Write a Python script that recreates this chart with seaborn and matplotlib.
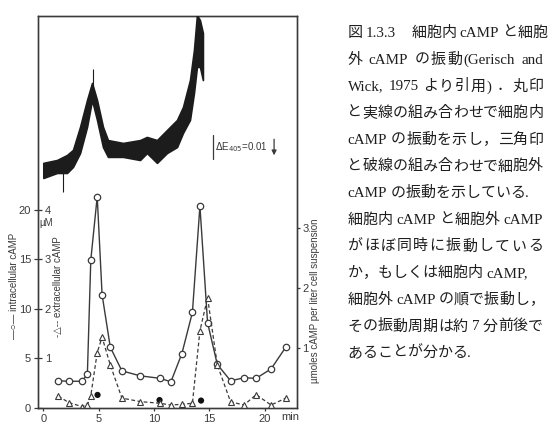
import matplotlib
matplotlib.use("Agg")
import matplotlib.pyplot as plt
import numpy as np
import pandas as pd
import seaborn as sns

# ---------------- data ----------------
time_min = [1.35, 2.3, 3.47, 3.98, 4.29, 4.87, 5.31, 6.05, 7.1, 8.75, 10.52,
            11.53, 12.52, 13.47, 14.15, 14.84, 15.72, 16.92, 18.13, 19.23, 20.58, 21.91]
intracellular = [2.7, 2.65, 2.65, 3.35, 14.9, 21.3, 11.4, 6.1, 3.7, 3.2, 2.95,
                 2.6, 5.45, 9.6, 20.35, 8.56, 4.35, 2.7, 3.0, 2.95, 3.9, 6.1]
extracellular = [0.23, 0.10, 0.02, 0.05, 0.24, 1.11, 1.42, 0.86, 0.19, 0.12, 0.085,
                 0.05, 0.065, 0.085, 1.55, 2.22, 0.86, 0.115, 0.05, 0.26, 0.05, 0.19]
dot_time = [4.9, 10.5, 14.25]
dot_value = [1.27, 0.75, 0.70]

# light-scattering trace envelope (units of 0.001 dE405)
trace_time = [0.0, 1.24, 2.14, 2.68, 3.32, 3.95, 4.40, 4.85, 5.39, 5.84, 7.2, 8.74,
              9.36, 10.27, 11.17, 12.08, 12.62, 13.25, 13.61, 13.88, 14.15, 14.42]
trace_low = [12.5, 14.6, 14.6, 17.1, 22.9, 33.8, 45.0, 36.7, 25.4, 21.3, 21.3, 20.0,
             22.9, 18.8, 22.9, 25.4, 31.3, 36.7, 47.9, 58.8, 58.8, 53.3]
trace_high = [18.8, 20.0, 22.1, 24.2, 33.8, 45.0, 52.1, 45.0, 33.8, 28.3, 27.1, 28.3,
              29.6, 28.3, 32.5, 36.7, 42.1, 53.3, 65.8, 80.4, 78.3, 72.9]
spike_time = [1.78, 4.45]
spike_low = [6.7, 45.0]
spike_high = [18.0, 58.0]

left_ticks = [0, 5, 10, 15, 20]
inner_ticks = [1, 2, 3, 4]
right_ticks = [1, 2, 3]
x_ticks = [0, 5, 10, 15, 20]

caption_lines = [
    "図 1.3.3　細胞内 cAMP と細胞",
    "外 cAMP の振動(Gerisch and",
    "Wick, 1975 より引用) ．丸印",
    "と実線の組み合わせで細胞内",
    "cAMP の振動を示し，三角印",
    "と破線の組み合わせで細胞外",
    "cAMP の振動を示している.",
    "細胞内 cAMP と細胞外 cAMP",
    "がほぼ同時に振動している",
    "か，もしくは細胞内 cAMP,",
    "細胞外 cAMP の順で振動し，",
    "その振動周期は約 7 分前後で",
    "あることが分かる.",
]
justify = [True, True, True, True, True, True, False, True, True, False, False, True, False]

# ---------------- style ----------------
sns.set_style("ticks")
plt.rcParams["font.family"] = ["Liberation Sans", "DejaVu Sans"]
INK = "#3a3a3a"

W, H = 555, 440
fig = plt.figure(figsize=(W / 100, H / 100), dpi=100)
fig.patch.set_facecolor("white")


def rect(x0, y0, x1, y1):
    return [x0 / W, 1 - y1 / H, (x1 - x0) / W, (y1 - y0) / H]


XL = (-0.48, 22.92)
ax = fig.add_axes(rect(38, 16, 297, 407.5))
ax_ext = ax.twinx()
ax_right = ax.twinx()

df = pd.DataFrame({"time": time_min, "intra": intracellular, "extra": extracellular})
dots = pd.DataFrame({"time": dot_time, "value": dot_value})

sns.lineplot(data=df, x="time", y="intra", ax=ax, color=INK, lw=1.0,
             marker="o", markersize=4.6, markerfacecolor="white",
             markeredgecolor=INK, markeredgewidth=0.9, zorder=3)
sns.scatterplot(data=dots, x="time", y="value", ax=ax, color="#111111", s=20,
                edgecolor="none", zorder=4)
sns.lineplot(data=df, x="time", y="extra", ax=ax_ext, color=INK, lw=0.9,
             linestyle=(0, (3, 2)), marker="^", markersize=4.2,
             markerfacecolor="white", markeredgecolor=INK, markeredgewidth=0.8, zorder=3)

ax.set_xlim(*XL)
ax.set_ylim(0, 39.55)
ax_ext.set_ylim(0, 39.55 / 5)
ax_right.set_ylim(0, 6.55)

for a in (ax, ax_ext, ax_right):
    for s in a.spines.values():
        s.set_color(INK)
        s.set_linewidth(0.9)

# x axis
ax.set_xticks(x_ticks)
ax.tick_params(axis="x", direction="out", length=2.5, width=0.9, pad=2,
               labelsize=8, colors=INK)
ax.set_xlabel("")
ax.text(22.3, -0.024, "min", transform=ax.get_xaxis_transform(), ha="center",
        va="center", fontsize=8, color=INK)

# left (intracellular) axis
ax.set_yticks(left_ticks)
ax.tick_params(axis="y", direction="inout", length=6, width=0.9, pad=2,
               labelsize=8, colors=INK)
ax.set_ylabel("—○— intracellular cAMP", fontsize=7, color=INK)
ax.yaxis.label.set_va("center")
ax.yaxis.set_label_coords(-0.094, 0.31)
ax.text(0.031, 18.6, "µM", transform=ax.get_yaxis_transform(), ha="center",
        va="center", fontsize=7, color=INK)

# inner (extracellular) scale
ax_ext.yaxis.tick_left()
ax_ext.set_yticks(inner_ticks)
ax_ext.tick_params(axis="y", left=True, right=False, labelleft=True,
                   labelright=False, length=0, pad=-9.3, labelsize=8, colors=INK)
ax_ext.yaxis.set_label_position("left")
ax_ext.set_ylabel("-△-- extracellular cAMP", fontsize=7, color=INK)
ax_ext.yaxis.label.set_va("center")
ax_ext.yaxis.set_label_coords(0.078, 0.31)

# right axis
ax_right.set_yticks(right_ticks)
ax_right.tick_params(axis="y", direction="out", length=2.5, width=0.9, pad=1.5,
                     labelsize=8, colors=INK)
ax_right.set_ylabel("µmoles cAMP per liter cell suspension", fontsize=7, color=INK)
ax_right.yaxis.label.set_va("center")
ax_right.yaxis.set_label_coords(1.07, 0.272)

# ---------------- top trace ----------------
ax_tr = fig.add_axes(rect(38, 16, 297, 208))
ax_tr.set_xlim(*XL)
ax_tr.set_ylim(0, 80)
ax_tr.axis("off")
ax_tr.patch.set_alpha(0)
ax_tr.fill_between(trace_time, trace_low, trace_high, color="#1c1c1c", lw=1.2,
                   edgecolor="#1c1c1c", clip_on=True)
ax_tr.vlines(spike_time, spike_low, spike_high, color="#1c1c1c", lw=0.8)
# scale bar dE405 = 0.01
ax_tr.plot([15.3, 15.3], [20.4, 30.4], color=INK, lw=0.9)
ax_tr.text(15.55, 25.4, r"$\Delta$E$_{405}$=0.01", fontsize=7, va="center",
           ha="left", color=INK)
ax_tr.annotate("", xy=(20.85, 20.8), xytext=(20.85, 29.8),
               arrowprops=dict(arrowstyle="-|>", lw=0.9, color=INK, mutation_scale=7))

# ---------------- caption (justified Japanese text) ----------------
CAP_FAMILY = ["Liberation Serif", "Noto Sans CJK JP"]
renderer = fig.canvas.get_renderer()
x_left, x_right = 347.5, 543.0
space_w = 3.5


def tokenize(line):
    toks, buf = [], ""
    for ch in line:
        if ch == " ":
            if buf:
                toks.append(buf)
                buf = ""
            toks.append(" ")
        elif ord(ch) < 128:
            buf += ch
        else:
            if buf:
                toks.append(buf)
                buf = ""
            toks.append(ch)
    if buf:
        toks.append(buf)
    return toks


for i, (line, just) in enumerate(zip(caption_lines, justify)):
    base_y = 31.5 + 26.68 * i + 5.5
    toks = tokenize(line)
    items = []
    for t in toks:
        if t == " ":
            items.append((None, space_w))
        else:
            txt = fig.text(0, 1 - base_y / H, t, family=CAP_FAMILY, fontsize=10.8,
                           color="#1e1e1e", va="baseline", ha="left")
            w = txt.get_window_extent(renderer).width
            if t == "　":
                w = 15.0
            items.append((txt, w))
    total = sum(w for _, w in items)
    n_gaps = max(len(items) - 1, 1)
    gap = (x_right - x_left - total) / n_gaps if just else 0.0
    gap = max(gap, 0.0)
    x = x_left
    for txt, w in items:
        if txt is not None:
            txt.set_x(x / W)
        x += w + gap

fig.savefig("out.png", dpi=100, facecolor="white")
